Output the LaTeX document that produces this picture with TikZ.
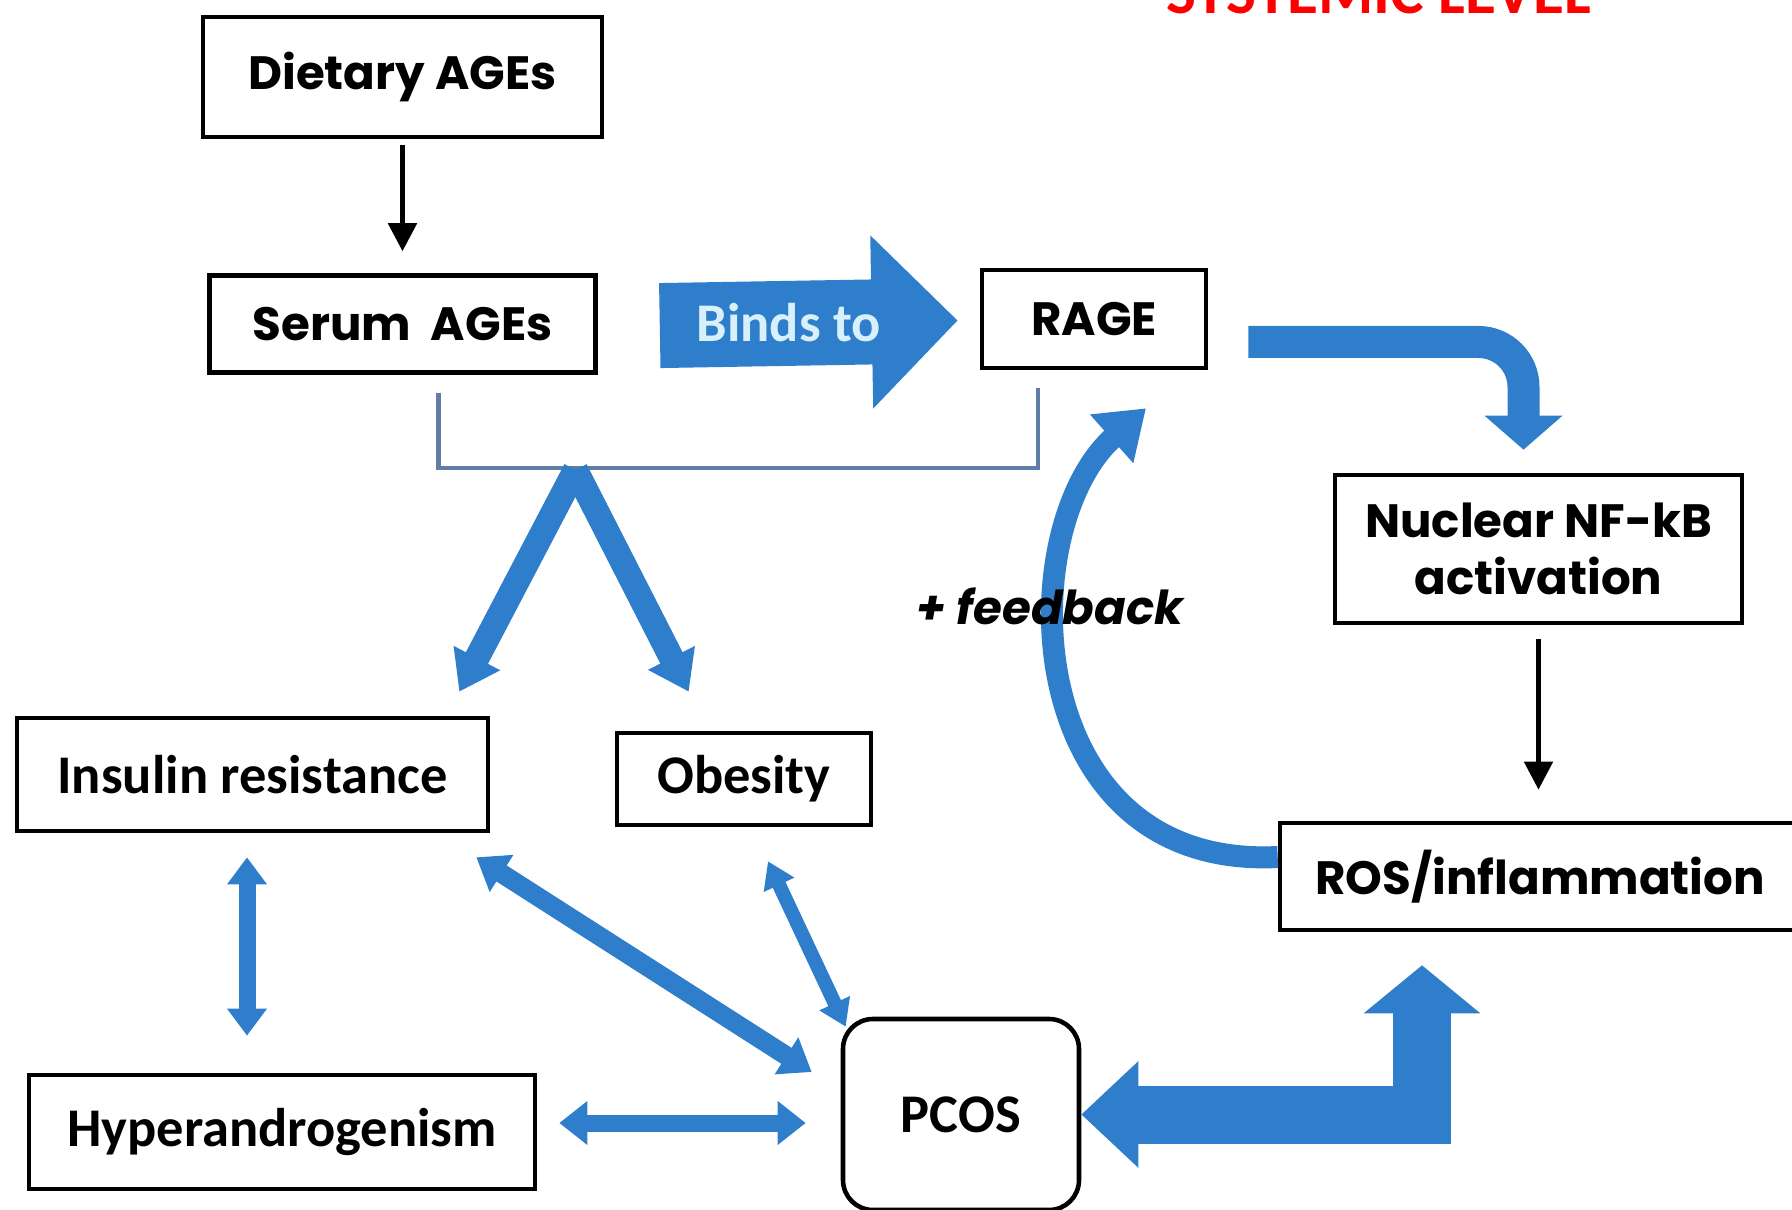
\documentclass[tikz,border=0pt]{standalone}
\usepackage{fontspec}
\setmainfont{Carlito}
\newfontfamily\geofont{Poppins}
\usetikzlibrary{arrows.meta,positioning,calc}
\usepackage{xcolor}
\definecolor{arrblue}{RGB}{46,126,204}
\definecolor{brkcol}{RGB}{95,125,165}
\definecolor{titred}{RGB}{255,0,0}
\definecolor{bindcol}{RGB}{215,240,250}
\tikzset{
  geobox/.style ={draw, line width=1.3pt, inner sep=0pt, align=center,
                  font=\geofont\bfseries\fontsize{13.3}{16}\selectfont},
  calbox/.style ={draw, line width=1.3pt, inner sep=0pt, align=center,
                  font=\bfseries\fontsize{15.5}{18}\selectfont},
  thinarr/.style={-{Triangle[width=8pt,length=8pt]}, line width=1.4pt},
  fatarr/.style ={draw=arrblue, line width=#1},
  dblarr/.style n args={3}{draw=arrblue, line width=#1,
                  {Triangle[width=#2,length=#3]}-{Triangle[width=#2,length=#3]}},
}

\begin{document}
\begin{tikzpicture}[
  brkline/.style={draw=brkcol, line width=1.3pt},
  bindlab/.style={text=bindcol, font=\bfseries\fontsize{15.5}{18}\selectfont},
  fblab/.style={font=\geofont\bfseries\itshape\fontsize{13.3}{16}\selectfont},
  titlab/.style={text=titred, font=\bfseries\fontsize{18}{21}\selectfont},
]
\useasboundingbox (0,0) rectangle (17.92,-12.10);

%% Title (cut at the top)
\node[titlab, anchor=base] (title) at (13.785,-0.14) {SYSTEMIC LEVEL};

%% Boxes
\node[geobox, minimum width=3.99cm, minimum height=1.20cm] (diet) at (4.025,-0.77) {Dietary AGEs};
\node[geobox, minimum width=3.86cm, minimum height=0.97cm, below=1.34cm of diet] (serum) {Serum\ \ AGEs};
\node[geobox, minimum width=2.24cm, minimum height=0.98cm] (rage) at (10.94,-3.19) {RAGE};
\node[geobox, minimum width=4.07cm, minimum height=1.48cm] (nfkb) at (15.385,-5.49) {Nuclear NF-kB\\activation};
\node[geobox, minimum width=5.20cm, minimum height=1.07cm] (ros) at (15.40,-8.765) {ROS/inflammation};

\node[calbox, minimum width=4.71cm, minimum height=1.13cm] (insulin) at (2.525,-7.745) {Insulin resistance};
\node[calbox, minimum width=2.54cm, minimum height=0.92cm] (obesity) at (7.44,-7.79) {Obesity};
\node[calbox, minimum width=5.06cm, minimum height=1.14cm] (hyper) at (2.82,-11.32) {Hyperandrogenism};
\node[calbox, rounded corners=0.3cm, minimum width=2.36cm, minimum height=1.91cm] (pcos) at (9.61,-11.145) {PCOS};

%% Black arrows
\draw[thinarr, shorten <=0.06cm, shorten >=0.22cm] (diet.south) -- (serum.north);
\draw[thinarr, shorten <=0.14cm, shorten >=0.31cm] (nfkb.south) -- (nfkb.south |- ros.north);

%% Binds to
\draw[fatarr=0.85cm, -{Triangle[width=1.68cm,length=0.86cm]}]
  ($(serum.east)+(0.62,-0.015)$) -- node[bindlab, xshift=-0.2cm]{Binds to} ($(rage.west)+(-0.22,-0.015)$);

%% RAGE to NF-kB
\draw[fatarr=0.32cm, rounded corners=0.45cm, -{Triangle[width=0.76cm,length=0.34cm]}]
  ($(rage.east)+(0.40,-0.23)$) -| ([xshift=-0.15cm, yshift=0.23cm]nfkb.north);

%% Bracket and split
\draw[brkline] ($(serum.south)+(0.36,-0.18)$) -- ++(0,-0.75) coordinate (brkl)
  -| ($(rage.south)+(-0.56,-0.18)$);
\coordinate (apex) at ($(brkl)+(1.37,-0.02)$);
\draw[fatarr=0.25cm, -{Triangle[width=0.5cm,length=0.38cm]}] (apex) -- ($(insulin.north east)+(-0.31,0.24)$);
\draw[fatarr=0.25cm, -{Triangle[width=0.5cm,length=0.38cm]}] (apex) -- ($(obesity.north west)+(0.74,0.39)$);

%% Two-way arrows
\draw[dblarr={0.17cm}{0.38cm}{0.27cm}, shorten <=0.24cm, shorten >=0.37cm]
  ([xshift=-0.055cm]insulin.south) -- ([xshift=-0.055cm]insulin.south |- hyper.north);
\draw[dblarr={0.19cm}{0.42cm}{0.30cm}] ($(insulin.south east)+(-0.14,-0.24)$) -- ($(pcos.west)+(-0.29,0.425)$);
\draw[dblarr={0.14cm}{0.32cm}{0.26cm}] ($(obesity.south)+(0.24,-0.34)$) -- ($(pcos.north west)+(0.05,-0.10)$);
\draw[dblarr={0.17cm}{0.42cm}{0.28cm}] ($(hyper.east)+(0.22,0.09)$) -- ($(pcos.west)+(-0.35,-0.085)$);

%% PCOS <-> ROS
\draw[fatarr=0.58cm, {Triangle[width=1.03cm,length=0.57cm]}-{Triangle[width=1.14cm,length=0.48cm]}]
  (pcos.east) -| ($(ros.south)+(-1.18,-0.33)$);

%% Feedback loop
\draw[fatarr=0.22cm, -{Triangle[width=0.62cm,length=0.46cm]}]
  ($(ros.west)+(0,0.195)$) .. controls +(-2.6,-0.13) and +(-1.35,-1.2) .. ($(rage.south)+(0.52,-0.38)$);
\node[fblab] (fb) at (10.50,-6.06) {+ feedback};

\end{tikzpicture}
\end{document}
